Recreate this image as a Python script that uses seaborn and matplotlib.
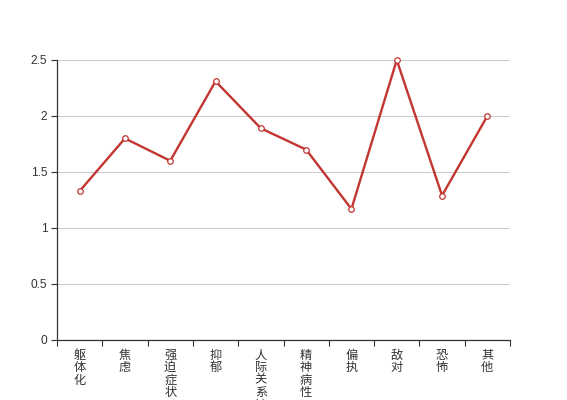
import matplotlib
matplotlib.use("Agg")
import matplotlib.pyplot as plt
import seaborn as sns
import pandas as pd
import numpy as np

categories = ["躯体化", "焦虑", "强迫症状", "抑郁", "人际关系敏感", "精神病性", "偏执", "敌对", "恐怖", "其他"]
values = [1.33, 1.80, 1.60, 2.31, 1.89, 1.70, 1.17, 2.50, 1.29, 2.00]
y_ticks = [0, 0.5, 1, 1.5, 2, 2.5]
y_tick_labels = ["0", "0.5", "1", "1.5", "2", "2.5"]

sns.set_theme(style="white")
plt.rcParams['font.family'] = ['Liberation Sans', 'Noto Sans CJK SC', 'DejaVu Sans']

df = pd.DataFrame({"cat": categories, "val": values})

fig = plt.figure(figsize=(5.67, 4.0), dpi=100)
ax = fig.add_axes([57/567, 60/400, 453/567, 280/400])

sns.lineplot(data=df, x="cat", y="val", sort=False, ax=ax, color="#c23531",
             linewidth=1.7, marker="o", markersize=4, markerfacecolor="white",
             markeredgecolor="#c23531", markeredgewidth=0.9, zorder=3)
for ln in ax.get_lines():
    ln.set_clip_on(False)

ax.set_xlim(-0.5, len(categories) - 0.5)
ax.set_ylim(0, 2.5)
ax.set_yticks(y_ticks)
ax.set_yticklabels(y_tick_labels)
ax.yaxis.grid(True, color="#cccccc", linewidth=0.8)
ax.xaxis.grid(False)
ax.set_axisbelow(True)

ax.set_xticks(range(len(categories)))
ax.set_xticklabels(["\n".join(c) for c in categories], linespacing=1.05)
ax.set_xticks(np.arange(-0.5, len(categories)), minor=True)
ax.tick_params(axis="x", which="major", length=0, pad=7, labelsize=8.8, colors="#333333")
ax.tick_params(axis="x", which="minor", length=4, width=0.8, color="#333333", direction="out", bottom=True)
for lbl in ax.get_xticklabels():
    lbl.set_verticalalignment("top")
ax.tick_params(axis="y", which="major", length=4, width=0.8, color="#333333",
               direction="out", left=True, labelsize=8.6, labelcolor="#333333", pad=3)

for s in ["top", "right"]:
    ax.spines[s].set_visible(False)
for s in ["left", "bottom"]:
    ax.spines[s].set_color("#333333")
    ax.spines[s].set_linewidth(0.9)

ax.set_xlabel("")
ax.set_ylabel("")

fig.savefig("out.png", dpi=100)
